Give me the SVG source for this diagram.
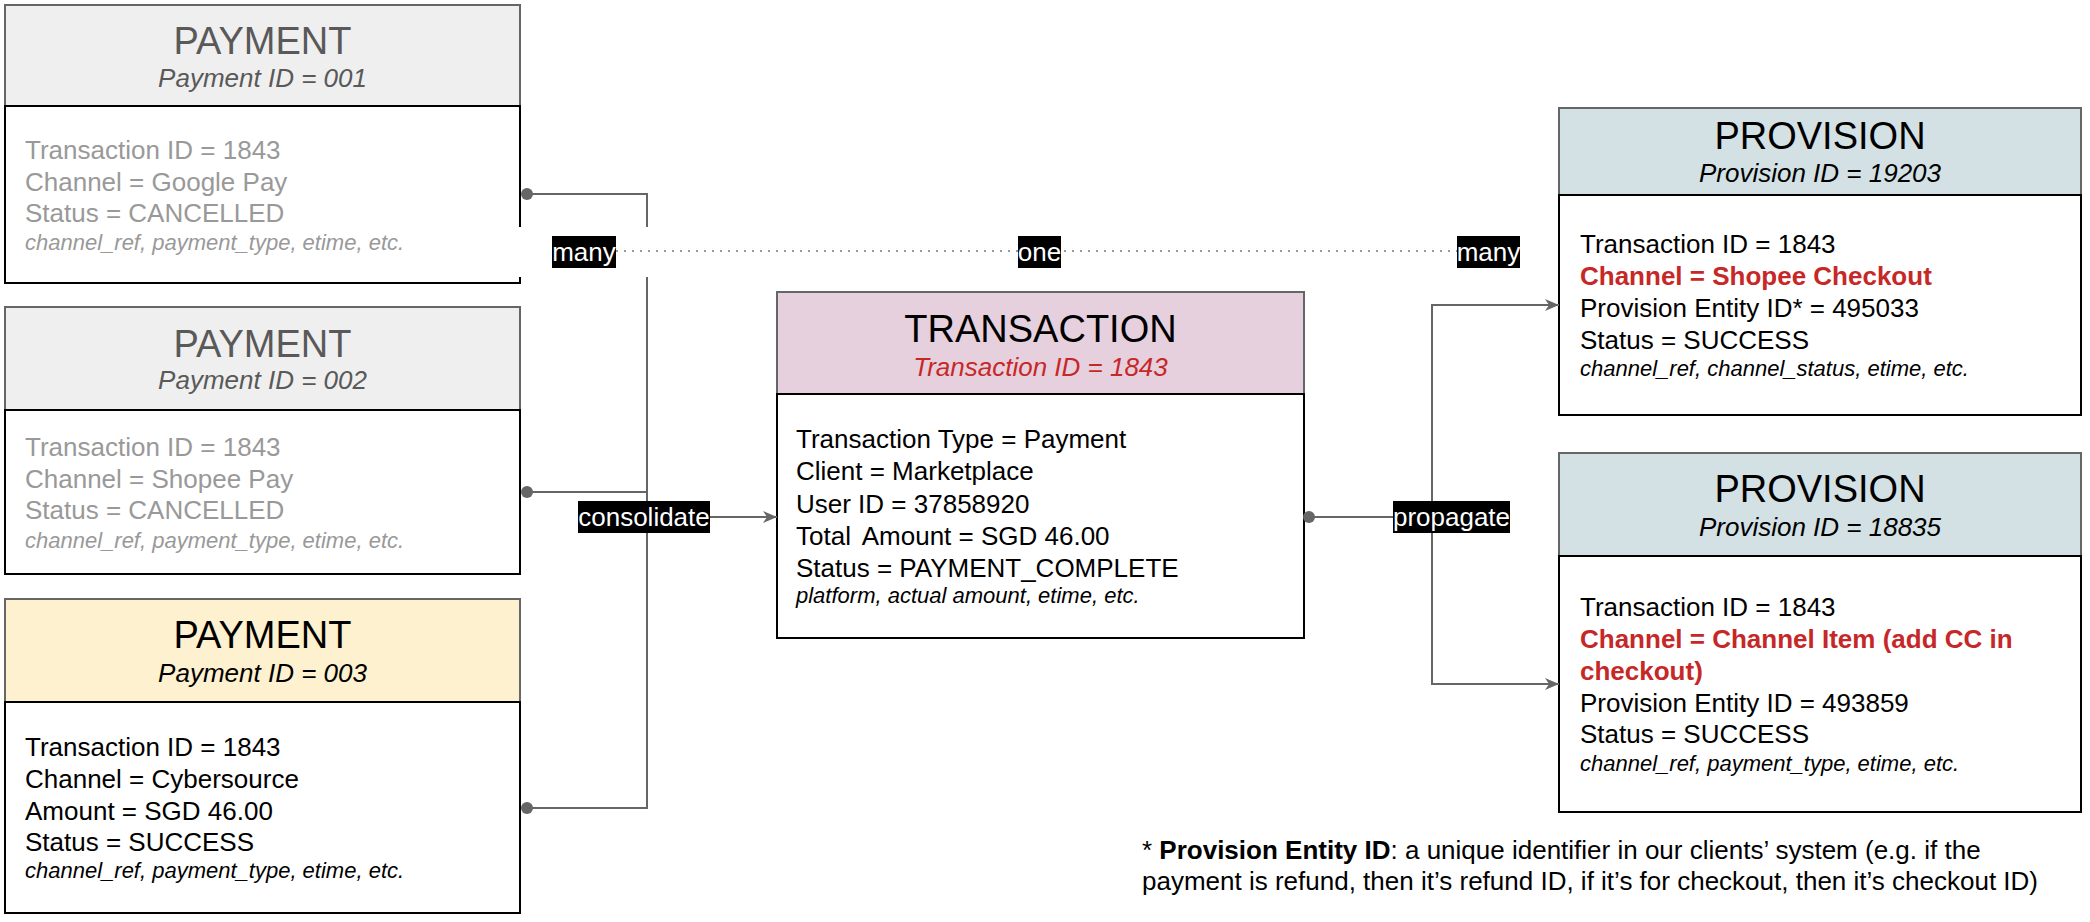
<svg xmlns="http://www.w3.org/2000/svg" width="2090" height="922" viewBox="0 0 2090 922">
<defs>
<style>
text{font-family:"Liberation Sans",Arial,Helvetica,sans-serif}
.title{font-size:38px;text-anchor:middle}
.sub{font-size:26px;font-style:italic;text-anchor:middle}
.body{font-size:26px}
.note{font-size:22px;font-style:italic}
.gray{fill:#999999}
.dgray{fill:#595959}
.red{fill:#c62828}
.b{font-weight:bold}
.hdr{stroke:#666666;stroke-width:2}
.bdy{fill:#ffffff;stroke:#000000;stroke-width:2}
.edge{fill:none;stroke:#666666;stroke-width:2}
.dot{fill:#666666}
.lbl{fill:#000000}
.lt{fill:#ffffff;font-size:26px;text-anchor:middle}
</style>
<marker id="arr" markerUnits="userSpaceOnUse" markerWidth="16" markerHeight="14" refX="14" refY="6" orient="auto">
<path d="M0,0 L14,6 L0,12 L4,6 Z" fill="#666666"/>
</marker>
</defs>
<rect x="0" y="0" width="2090" height="922" fill="#ffffff"/>

<g id="payment1">
<rect class="hdr" x="5" y="5" width="515" height="101" fill="#efefef"/>
<rect class="bdy" x="5" y="106" width="515" height="177"/>
<text class="title dgray" x="262.5" y="54">PAYMENT</text>
<text class="sub dgray" x="262.5" y="87">Payment ID = 001</text>
<text class="body gray" x="25" y="159">Transaction ID = 1843</text>
<text class="body gray" x="25" y="190.5">Channel = Google Pay</text>
<text class="body gray" x="25" y="222">Status = CANCELLED</text>
<text class="note gray" x="25" y="250">channel_ref, payment_type, etime, etc.</text>
</g>

<g id="payment2">
<rect class="hdr" x="5" y="307" width="515" height="103" fill="#efefef"/>
<rect class="bdy" x="5" y="410" width="515" height="164"/>
<text class="title dgray" x="262.5" y="357">PAYMENT</text>
<text class="sub dgray" x="262.5" y="389">Payment ID = 002</text>
<text class="body gray" x="25" y="456">Transaction ID = 1843</text>
<text class="body gray" x="25" y="487.5">Channel = Shopee Pay</text>
<text class="body gray" x="25" y="519">Status = CANCELLED</text>
<text class="note gray" x="25" y="548">channel_ref, payment_type, etime, etc.</text>
</g>

<g id="payment3">
<rect class="hdr" x="5" y="599" width="515" height="103" fill="#fdf1cf"/>
<rect class="bdy" x="5" y="702" width="515" height="211"/>
<text class="title" x="262.5" y="648">PAYMENT</text>
<text class="sub" x="262.5" y="682">Payment ID = 003</text>
<text class="body" x="25" y="756">Transaction ID = 1843</text>
<text class="body" x="25" y="788">Channel = Cybersource</text>
<text class="body" x="25" y="819.5">Amount = SGD 46.00</text>
<text class="body" x="25" y="851">Status = SUCCESS</text>
<text class="note" x="25" y="878">channel_ref, payment_type, etime, etc.</text>
</g>

<g id="transaction">
<rect class="hdr" x="777" y="292" width="527" height="102" fill="#e6d0dd"/>
<rect class="bdy" x="777" y="394" width="527" height="244"/>
<text class="title" x="1040.5" y="342">TRANSACTION</text>
<text class="sub red" x="1040.5" y="376">Transaction ID = 1843</text>
<text class="body" x="796" y="448">Transaction Type = Payment</text>
<text class="body" x="796" y="480">Client = Marketplace</text>
<text class="body" x="796" y="513">User ID = 37858920</text>
<text class="body" x="796" y="544.5">Total<tspan dx="5"> Amount = SGD 46.00</tspan></text>
<text class="body" x="796" y="577">Status = PAYMENT_COMPLETE</text>
<text class="note" x="796" y="603">platform, actual amount, etime, etc.</text>
</g>

<g id="provision1">
<rect class="hdr" x="1559" y="108" width="522" height="87" fill="#d3e1e5"/>
<rect class="bdy" x="1559" y="195" width="522" height="220"/>
<text class="title" x="1820" y="149">PROVISION</text>
<text class="sub" x="1820" y="182">Provision ID = 19203</text>
<text class="body" x="1580" y="253">Transaction ID = 1843</text>
<text class="body b red" x="1580" y="285">Channel = Shopee Checkout</text>
<text class="body" x="1580" y="317">Provision Entity ID* = 495033</text>
<text class="body" x="1580" y="349">Status = SUCCESS</text>
<text class="note" x="1580" y="376">channel_ref, channel_status, etime, etc.</text>
</g>

<g id="provision2">
<rect class="hdr" x="1559" y="453" width="522" height="103" fill="#d3e1e5"/>
<rect class="bdy" x="1559" y="556" width="522" height="256"/>
<text class="title" x="1820" y="502">PROVISION</text>
<text class="sub" x="1820" y="536">Provision ID = 18835</text>
<text class="body" x="1580" y="616">Transaction ID = 1843</text>
<text class="body b red" x="1580" y="648">Channel = Channel Item (add CC in</text>
<text class="body b red" x="1580" y="680">checkout)</text>
<text class="body" x="1580" y="712">Provision Entity ID = 493859</text>
<text class="body" x="1580" y="743">Status = SUCCESS</text>
<text class="note" x="1580" y="771">channel_ref, payment_type, etime, etc.</text>
</g>

<g id="footnote">
<text class="body" x="1142" y="859">* <tspan class="b">Provision Entity ID</tspan>: a unique identifier in our clients’ system (e.g. if the</text>
<text class="body" x="1142" y="890">payment is refund, then it’s refund ID, if it’s for checkout, then it’s checkout ID)</text>
</g>

<g id="connectors">
<path class="edge" d="M527,194 H647 V808 H527"/>
<path class="edge" d="M527,492 H647"/>
<path class="edge" d="M647,517 H777" marker-end="url(#arr)"/>
<path class="edge" d="M1309,517 H1432 V305 H1559" marker-end="url(#arr)"/>
<path class="edge" d="M1432,517 V684 H1559" marker-end="url(#arr)"/>
<circle class="dot" cx="527" cy="194" r="6"/>
<circle class="dot" cx="527" cy="492" r="6"/>
<circle class="dot" cx="527" cy="808" r="6"/>
<circle class="dot" cx="1309" cy="517" r="6"/>
<rect x="517" y="227" width="136" height="50" fill="#ffffff"/>
<path d="M616,251 H1457" fill="none" stroke="#999999" stroke-width="2" stroke-dasharray="2 6"/>
<rect class="lbl" x="552" y="236" width="64" height="32"/>
<text class="lt" x="584" y="261">many</text>
<rect class="lbl" x="1018" y="236" width="43" height="32"/>
<text class="lt" x="1039.5" y="261">one</text>
<rect class="lbl" x="1457" y="236" width="63" height="32"/>
<text class="lt" x="1488.5" y="261">many</text>
<rect class="lbl" x="578" y="501" width="132" height="32"/>
<text class="lt" x="644" y="526">consolidate</text>
<rect class="lbl" x="1393" y="501" width="117" height="32"/>
<text class="lt" x="1451.5" y="526">propagate</text>
</g>
</svg>
